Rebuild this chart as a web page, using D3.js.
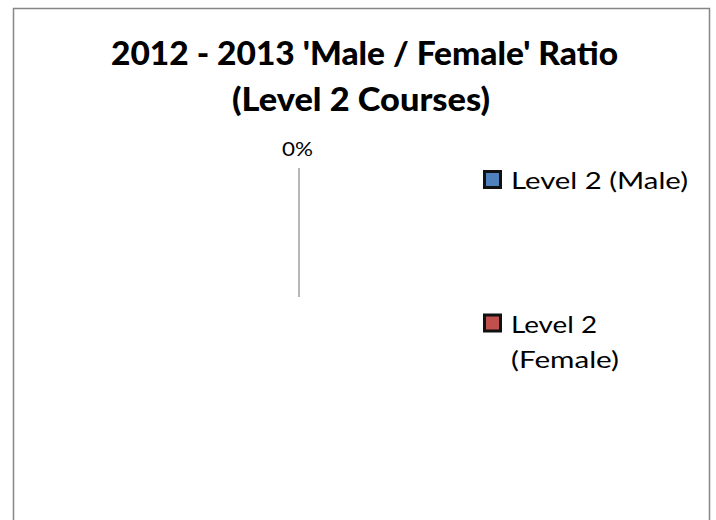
<!DOCTYPE html>
<html>
<head>
<meta charset="utf-8">
<script src="https://cdnjs.cloudflare.com/ajax/libs/d3/7.8.5/d3.min.js"></script>
<style>
  body { margin: 0; background: #fff; }
  text { font-family: Lato, "Open Sans", sans-serif; fill: #000; }
</style>
</head>
<body>
<div id="chart"></div>
<script>
var svgWidth = 716;
var svgHeight = 520;

// data
var titleLines = ["2012 - 2013 'Male / Female' Ratio", "(Level 2 Courses)"];
var categories = ["Level 2 (Male)", "Level 2 (Female)"];
var legendLines = [["Level 2 (Male)"], ["Level 2", "(Female)"]];
var values = [0, 0];
var colors = ["#4F81BD", "#C0504D"];

// text widths taken off the original (its font is narrower than ours)
var titleWidths = [507, 258];
var legendWidths = [[177], [86, 108]];

var svg = d3.select("#chart")
    .append("svg")
    .attr("width", svgWidth)
    .attr("height", svgHeight);

// chart area border (bottom runs off the page)
svg.append("rect")
    .attr("x", 13.5)
    .attr("y", 8.5)
    .attr("width", 696)
    .attr("height", 540)
    .attr("fill", "#fff")
    .attr("stroke", "#868686")
    .attr("stroke-width", 1.5);

// title
svg.append("g")
    .selectAll("text")
    .data(titleLines)
    .enter()
    .append("text")
    .attr("x", (d, i) => i === 0 ? 364.5 : 361)
    .attr("y", (d, i) => 65 + i * 46)
    .attr("text-anchor", "middle")
    .attr("font-size", "32px")
    .attr("font-weight", "900")
    .attr("textLength", (d, i) => titleWidths[i])
    .attr("lengthAdjust", "spacingAndGlyphs")
    .text(d => d);

// pie
var radius = 129;
var pieGroup = svg.append("g")
    .attr("transform", `translate(299, 297)`);

var pie = d3.pie().sort(null).value(d => d);
var arcs = pie(values);
var arc = d3.arc().innerRadius(0).outerRadius(radius);
var labelArc = d3.arc().innerRadius(radius).outerRadius(radius);

pieGroup.selectAll("path")
    .data(arcs)
    .enter()
    .append("path")
    .attr("d", arc)
    .attr("fill", (d, i) => colors[i])
    .attr("stroke", "#fff");

// single label for the (coinciding) zero slices, with leader line
var total = d3.sum(values);
var first = arcs[0];
var p = labelArc.centroid(first);
pieGroup.append("line")
    .attr("x1", 0)
    .attr("y1", 0)
    .attr("x2", p[0])
    .attr("y2", p[1])
    .attr("stroke", "#868686")
    .attr("stroke-width", 1.2);

pieGroup.append("text")
    .attr("x", p[0] - 1.5)
    .attr("y", p[1] - 12)
    .attr("text-anchor", "middle")
    .attr("font-size", "20px")
    .attr("textLength", 31)
    .attr("lengthAdjust", "spacingAndGlyphs")
    .text(d3.format(".0%")(total === 0 ? 0 : first.value / total));

// legend
var legend = svg.append("g")
    .attr("transform", "translate(483, 170)");

var items = legend.selectAll("g")
    .data(categories)
    .enter()
    .append("g")
    .attr("transform", (d, i) => `translate(0, ${i * 143.5})`);

items.append("rect")
    .attr("x", 1.5)
    .attr("y", 1.5)
    .attr("width", 16)
    .attr("height", 16)
    .attr("fill", (d, i) => colors[i])
    .attr("stroke", "#111")
    .attr("stroke-width", 3);

items.each(function(d, i) {
    var g = d3.select(this);
    legendLines[i].forEach(function(l, j) {
        g.append("text")
            .attr("x", 28)
            .attr("y", 19 + j * 35)
            .attr("font-size", "24px")
            .attr("textLength", legendWidths[i][j])
            .attr("lengthAdjust", "spacingAndGlyphs")
            .text(l);
    });
});
</script>
</body>
</html>
